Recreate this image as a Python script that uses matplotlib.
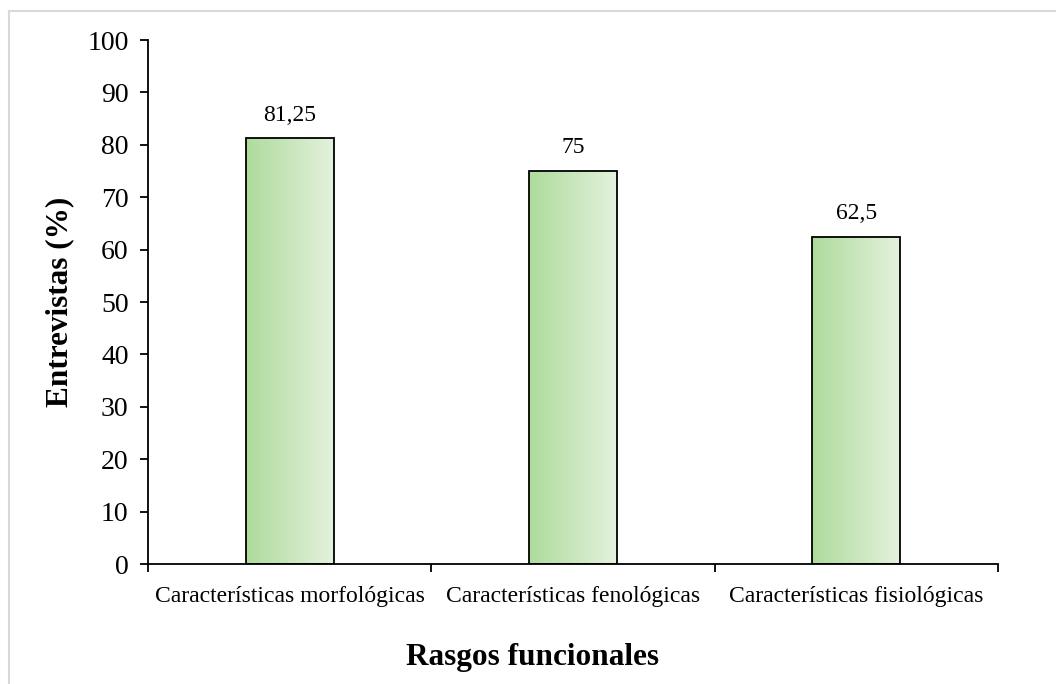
import matplotlib.pyplot as plt
import numpy as np
from matplotlib.colors import LinearSegmentedColormap
from matplotlib.lines import Line2D

categories = ["Características morfológicas", "Características fenológicas",
              "Características fisiológicas"]
values = [81.25, 75, 62.5]
value_labels = ["81,25", "75", "62,5"]
yticks = list(range(0, 101, 10))

plt.rcParams['font.family'] = ['Liberation Serif', 'DejaVu Serif']

fig = plt.figure(figsize=(10.56, 6.84), dpi=100)
ax = fig.add_axes([148 / 1056, 1 - 564 / 684, 850 / 1056, 524 / 684])

# light grey frame around the chart area
fig.add_artist(Line2D([8.5 / 1056, 8.5 / 1056], [0, 1 - 11 / 684],
                      transform=fig.transFigure, color='#d9d9d9', lw=1.5))
fig.add_artist(Line2D([8.5 / 1056, 1], [1 - 11 / 684, 1 - 11 / 684],
                      transform=fig.transFigure, color='#d9d9d9', lw=1.5))

cmap = LinearSegmentedColormap.from_list("grn", ["#aedb9c", "#e4f2dd"])
grad = np.linspace(0, 1, 256).reshape(1, -1)
width = 0.31
x = np.arange(len(categories))
bars = ax.bar(x, values, width=width, facecolor='none', edgecolor='black',
              linewidth=1.3, zorder=3)
for b, lab in zip(bars, value_labels):
    x0, y0 = b.get_x(), b.get_y()
    im = ax.imshow(grad, cmap=cmap, aspect='auto', zorder=2,
                   extent=[x0, x0 + b.get_width(), y0, y0 + b.get_height()])
    im.set_clip_path(b)
    ax.text(b.get_x() + b.get_width() / 2, b.get_height() + 2.4, lab,
            ha='center', va='bottom', fontsize=17)

ax.set_xlim(-0.5, len(categories) - 0.5)
ax.set_ylim(0, 100)
ax.set_yticks(yticks)
ax.tick_params(axis='y', labelsize=20, length=6, width=1.3, pad=8)
ax.set_xticks(x)
ax.set_xticklabels(categories, fontsize=17)
ax.tick_params(axis='x', length=0, pad=16)
ax.set_xticks(np.arange(-0.5, len(categories)), minor=True)
ax.tick_params(axis='x', which='minor', length=6, width=1.3)

for s in ['top', 'right']:
    ax.spines[s].set_visible(False)
ax.spines['left'].set_linewidth(1.3)
ax.spines['bottom'].set_linewidth(1.3)

ax.set_ylabel("Entrevistas (%)", fontsize=22.5, fontweight='bold', labelpad=9)
ax.set_xlabel("Rasgos funcionales", fontsize=22.5, fontweight='bold',
              labelpad=26, x=0.452)

fig.savefig("out.png", dpi=100)
